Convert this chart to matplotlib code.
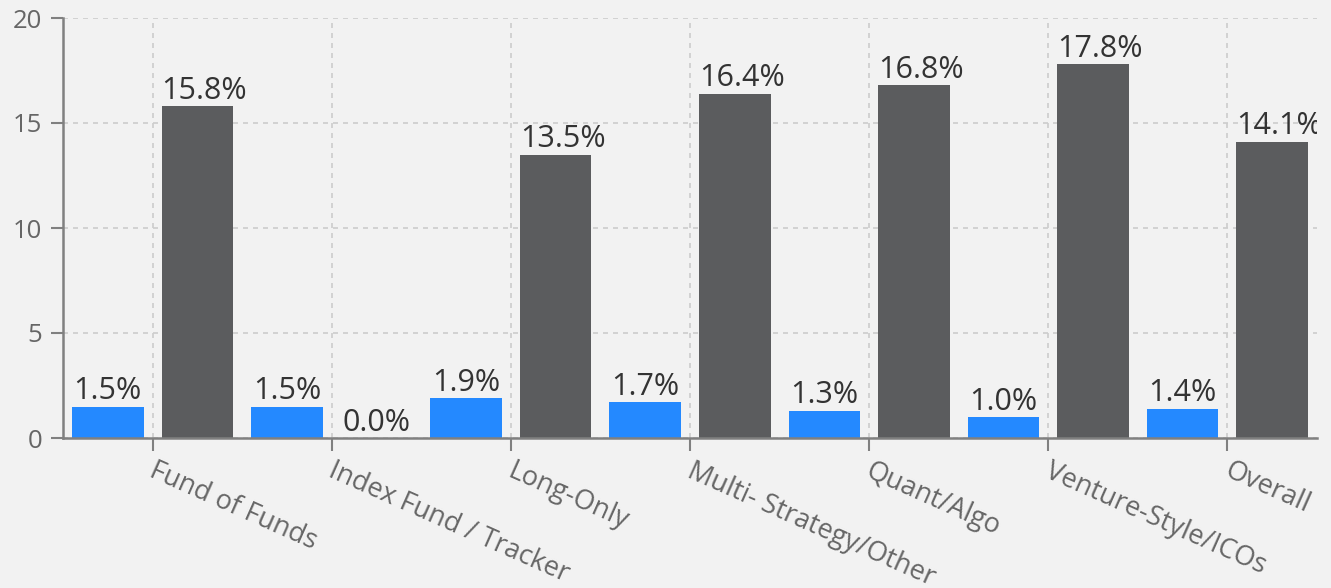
import numpy as np
import matplotlib
matplotlib.use("Agg")
import matplotlib.pyplot as plt
import matplotlib.transforms as mtransforms

# donnees
categories = ["Fund of Funds", "Index Fund / Tracker", "Long-Only",
              "Multi- Strategy/Other", "Quant/Algo", "Venture-Style/ICOs", "Overall"]
serie_bleue = [1.5, 1.5, 1.9, 1.7, 1.3, 1.0, 1.4]
serie_grise = [15.8, 0.0, 13.5, 16.4, 16.8, 17.8, 14.1]
y_ticks = [0, 5, 10, 15, 20]

plt.rcParams["font.family"] = ["Open Sans", "DejaVu Sans"]

fond = "#f2f2f2"
bleu = "#2489ff"
gris = "#5b5c5e"
axe = "#808080"

fig = plt.figure(figsize=(13.31, 5.88), dpi=100, facecolor=fond)
ax = fig.add_axes([63 / 1331, 150 / 588, (1317 - 63) / 1331, 420 / 588])
ax.set_facecolor(fond)

x = np.arange(len(categories))
largeur = 0.40
barres_b = ax.bar(x - 0.25, serie_bleue, largeur, color=bleu, zorder=3)
barres_g = ax.bar(x + 0.25, serie_grise, largeur, color=gris, zorder=3)

def etiquettes(barres, valeurs):
    for b, v in zip(barres, valeurs):
        txt = "%.1f%%" % v
        if len(txt) > 4:
            # trop large pour la barre : aligne a gauche
            xt, ha = b.get_x(), "left"
        else:
            xt, ha = b.get_x() + b.get_width() / 2, "center"
        ax.text(xt, v + 0.02, txt, ha=ha, va="bottom", fontsize=22,
                color="#333333", zorder=4, clip_on=True)

etiquettes(barres_b, serie_bleue)
etiquettes(barres_g, serie_grise)

ax.set_xlim(-0.5, 6.5)
ax.set_ylim(0, 20)
ax.set_yticks(y_ticks)
ax.set_xticks(x)
ax.set_xticklabels([])
# etiquettes de categories dessinees a la main (decalage a droite)
decale = mtransforms.ScaledTranslation(4 / 100, -19 / 100, fig.dpi_scale_trans)
for xi, nom in zip(x, categories):
    ax.text(xi, 0, nom, transform=ax.get_xaxis_transform() + decale,
            rotation=-24, ha="left", va="top", rotation_mode="anchor",
            fontsize=19.5, color="#666666", clip_on=False)

ax.tick_params(axis="y", labelsize=18.5, labelcolor="#666666", color=axe,
               length=9, width=1.5, pad=6)
ax.tick_params(axis="x", color=axe, length=9, width=1.5)

ax.grid(True, color="#cccccc", linestyle=(0, (3, 3)), linewidth=1.2, zorder=0)

for s in ["top", "right"]:
    ax.spines[s].set_visible(False)
for s in ["left", "bottom"]:
    ax.spines[s].set_color(axe)
    ax.spines[s].set_linewidth(1.8)
    ax.spines[s].set_zorder(5)

fig.savefig("out.png", dpi=100, facecolor=fond)
